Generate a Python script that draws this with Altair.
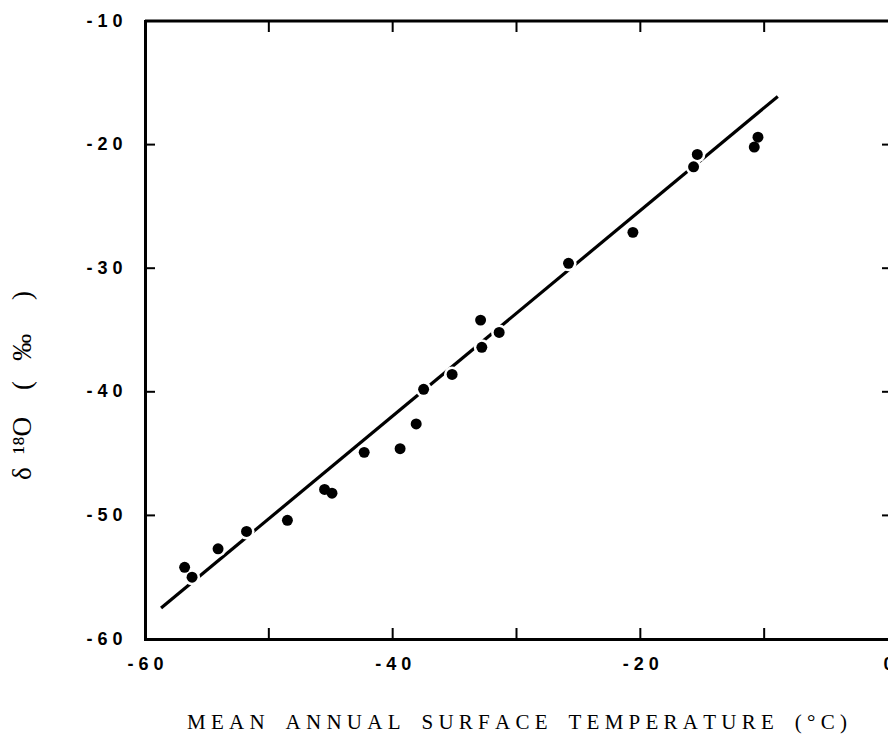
import altair as alt
import pandas as pd

NB = "\u00a0"

# data
temp = [-56.8, -56.2, -54.1, -51.8, -48.5, -45.5, -44.9, -42.3, -39.4, -38.1, -37.5,
        -35.2, -32.8, -32.9, -31.4, -25.8, -20.6, -15.4, -15.7, -10.5, -10.8]
d18o = [-54.2, -55.0, -52.7, -51.3, -50.4, -47.9, -48.2, -44.9, -44.6, -42.6, -39.8,
        -38.6, -36.4, -34.2, -35.2, -29.6, -27.1, -20.8, -21.8, -19.4, -20.2]

line_t = [-58.7, -8.9]
line_d = [-57.5, -16.1]

x_label_values = [-60, -40, -20, 0]
y_label_values = [-10, -20, -30, -40, -50, -60]
x_tick_values = [-50, -40, -30, -20, -10]
y_tick_values = [-20, -30, -40, -50]

x_title = (NB * 4).join(NB.join(w) for w in ["MEAN", "ANNUAL", "SURFACE", "TEMPERATURE", "(°C)"])
y_title = "δ" + NB * 2 + "¹⁸O" + NB * 4 + "(" + NB * 3 + "‰" + NB * 5 + ")"

W, H = 743, 618


def spaced_expr(values):
    parts = []
    for v in values:
        parts.append(f"datum.value == {v} ? '{NB.join(str(v))}'")
    return " : ".join(parts) + " : ''"


pts = pd.DataFrame({"t": temp, "d": d18o})
fit = pd.DataFrame({"t": line_t, "d": line_d})
xt = pd.DataFrame({"t": x_tick_values})
yt = pd.DataFrame({"d": y_tick_values})
one = pd.DataFrame({"k": [0]})

xscale = alt.Scale(domain=[-60, 0], nice=False, zero=False)
yscale = alt.Scale(domain=[-60, -10], nice=False, zero=False)

label_font = "Liberation Sans Narrow, Liberation Sans"
title_font = "Liberation Serif"

xaxis = alt.Axis(
    values=x_label_values, labelExpr=spaced_expr(x_label_values),
    ticks=False, tickSize=0, grid=False, domain=True, domainColor="black",
    domainWidth=3, domainCap="square", labelFont=label_font, labelFontSize=18,
    labelFontWeight="bold",
    labelColor="black", labelPadding=16, labelFlush=False, labelOverlap=False,
    title=x_title, titleFont=title_font, titleFontSize=21, titleFontWeight="normal",
    titleColor="black", titleY=83, titleBaseline="middle",
)
yaxis = alt.Axis(
    values=y_label_values, labelExpr=spaced_expr(y_label_values),
    ticks=False, tickSize=0, grid=False, domain=True, domainColor="black",
    domainWidth=3, domainCap="square", labelFont=label_font, labelFontSize=18,
    labelFontWeight="bold",
    labelColor="black", labelPadding=23, labelFlush=False, labelOverlap=False,
    title=y_title, titleFont=title_font, titleFontSize=27, titleFontWeight="normal",
    titleColor="black", titleX=-123, titleY=364, titleAngle=270,
    titleAlign="center", titleBaseline="middle",
)

line = alt.Chart(fit).mark_line(color="black", strokeWidth=3.2).encode(
    x=alt.X("t:Q", scale=xscale, axis=xaxis),
    y=alt.Y("d:Q", scale=yscale, axis=yaxis),
)
halo = alt.Chart(pts).mark_circle(color="white", size=260, opacity=1).encode(
    x="t:Q", y="d:Q")
dots = alt.Chart(pts).mark_circle(color="black", size=120, opacity=1).encode(
    x="t:Q", y="d:Q")

top = alt.Chart(one).mark_rule(color="black", strokeWidth=3).encode(
    x=alt.value(0), x2=alt.value(W), y=alt.value(0))

tb = alt.Chart(xt).mark_rule(color="black", strokeWidth=2).encode(
    x="t:Q", y=alt.value(H), y2=alt.value(H - 11))
tt = alt.Chart(xt).mark_rule(color="black", strokeWidth=2).encode(
    x="t:Q", y=alt.value(0), y2=alt.value(11))
tl = alt.Chart(yt).mark_rule(color="black", strokeWidth=2).encode(
    y="d:Q", x=alt.value(0), x2=alt.value(10))
tr = alt.Chart(yt).mark_rule(color="black", strokeWidth=2).encode(
    y="d:Q", x=alt.value(W), x2=alt.value(W - 6))

chart = alt.layer(line, halo, dots, top, tb, tt, tl, tr).properties(
    width=W, height=H,
    padding={"left": 145, "top": 21, "right": 0, "bottom": 96},
    autosize=alt.AutoSizeParams(type="none"),
    background="white",
).configure_view(stroke=None)

chart.save("out.html", embed_options={"renderer": "svg", "actions": False})
